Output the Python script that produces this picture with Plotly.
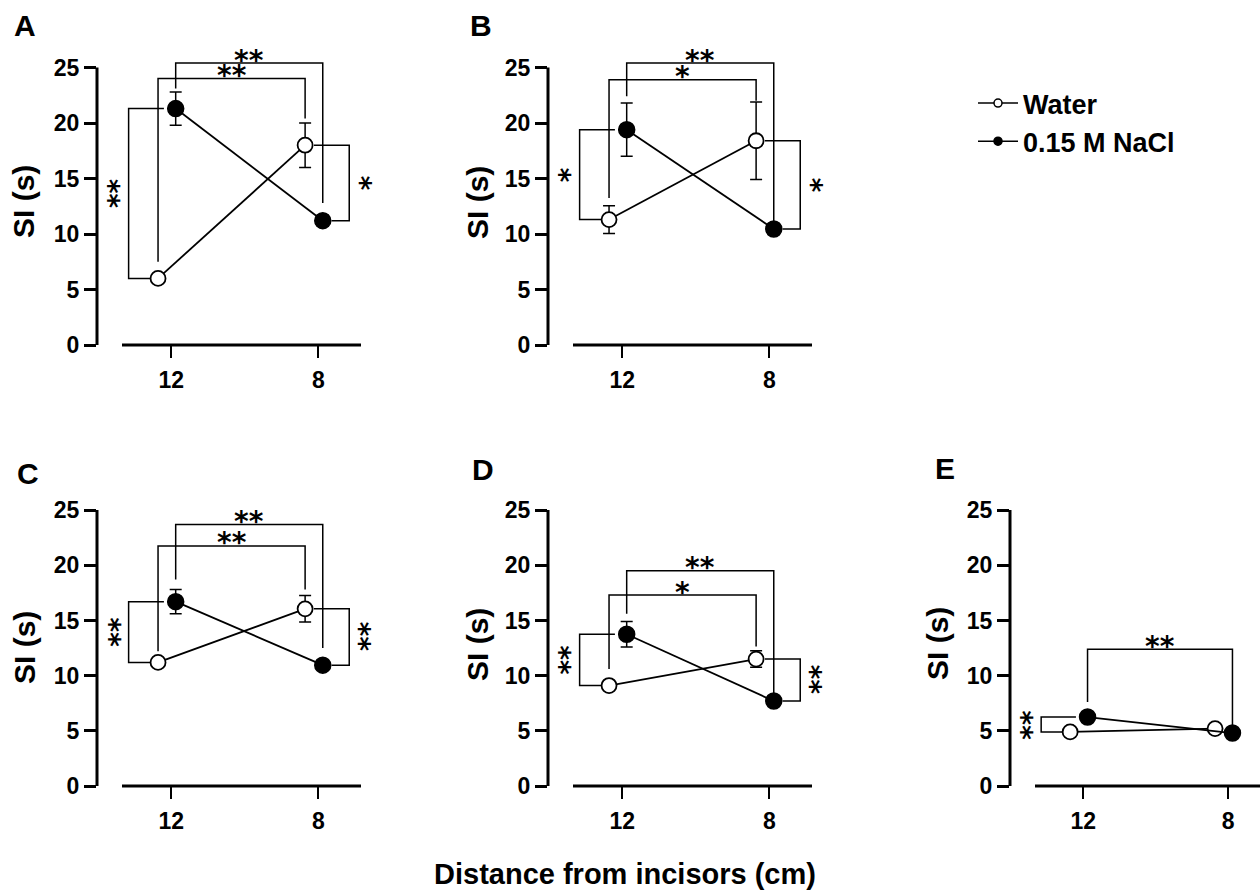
import plotly.graph_objects as go

# ---------------- data ----------------
distances = ["12", "8"]          # distance from incisors (cm)
panels = ["A", "B", "C", "D", "E"]
y_ticks = [0, 5, 10, 15, 20, 25]

water_A = [6.0, 18.0];   water_A_err = [0.3, 2.0]
nacl_A = [21.3, 11.2];   nacl_A_err = [1.5, 0.5]
water_B = [11.3, 18.4];  water_B_err = [1.25, 3.5]
nacl_B = [19.4, 10.45];  nacl_B_err = [2.4, 0.5]
water_C = [11.2, 16.05]; water_C_err = [0.3, 1.2]
nacl_C = [16.7, 10.95];  nacl_C_err = [1.1, 0.4]
water_D = [9.1, 11.5];   water_D_err = [0.3, 0.75]
nacl_D = [13.75, 7.7];   nacl_D_err = [1.15, 0.4]
water_E = [4.9, 5.2];    water_E_err = [0.2, 0.3]
nacl_E = [6.25, 4.8];    nacl_E_err = [0.3, 0.3]

# significance between distances: (label, series, bracket level, leg end at 12, leg end at 8)
sig_dist_A = [("**", "nacl", 25.4, 23.1, 12.8), ("**", "water", 24.0, 7.5, 20.4)]
sig_dist_B = [("**", "nacl", 25.4, 22.4, 11.1), ("*", "water", 23.9, 13.25, 22.0)]
sig_dist_C = [("**", "nacl", 23.7, 18.7, 12.5), ("**", "water", 21.75, 12.2, 17.8)]
sig_dist_D = [("**", "nacl", 19.5, 15.6, 8.3), ("*", "water", 17.3, 10.6, 12.65)]
sig_dist_E = [("**", "nacl", 12.4, 7.6, 5.2)]
# significance between solutions at 12 cm and at 8 cm
sig_12 = {"A": "**", "B": "*", "C": "**", "D": "**", "E": "**"}
sig_8 = {"A": "*", "B": "*", "C": "**", "D": "**", "E": None}

data = {
    "A": (water_A, water_A_err, nacl_A, nacl_A_err, sig_dist_A),
    "B": (water_B, water_B_err, nacl_B, nacl_B_err, sig_dist_B),
    "C": (water_C, water_C_err, nacl_C, nacl_C_err, sig_dist_C),
    "D": (water_D, water_D_err, nacl_D, nacl_D_err, sig_dist_D),
    "E": (water_E, water_E_err, nacl_E, nacl_E_err, sig_dist_E),
}

# ---------------- layout geometry ----------------
W, H = 1260, 894
FONT = "Liberation Sans, Arial, sans-serif"
STAR_FONT = dict(size=28, family="DejaVu Sans, sans-serif", weight="bold", color="black")
WATER_OFF, NACL_OFF = -0.09, 0.03
LEFT_BR, RIGHT_BR = -0.29, 1.21

# pixel boxes: (x_left, x_right, y_zero_px, y_top_px)
row1 = (345, 45.3)
row2 = (786, 488)
boxes = {
    "A": (97, 361) + row1,
    "B": (548, 812) + row1,
    "C": (97, 361) + row2,
    "D": (548, 812) + row2,
    "E": (1010, 1260) + row2,
}
xranges = {"A": [-0.505, 1.29], "B": [-0.505, 1.29], "C": [-0.505, 1.29],
           "D": [-0.505, 1.29], "E": [-0.505, 1.22]}
letter_pos = {"A": (25, 26), "B": (481, 26), "C": (28, 473), "D": (483, 469), "E": (945, 468)}
ytitle_pos = {"A": (24, 202), "B": (477, 203), "C": (24, 648), "D": (477, 645), "E": (937, 644)}

fig = go.Figure()
layout = dict(
    template="none",
    width=W, height=H, margin=dict(l=0, r=0, t=0, b=0, pad=0, autoexpand=False),
    paper_bgcolor="white", plot_bgcolor="white",
    font=dict(family=FONT, color="black"),
    showlegend=True,
)
shapes, annotations = [], []

for i, p in enumerate(panels):
    s = "" if i == 0 else str(i + 1)
    xa, ya = "x" + s, "y" + s
    xl, xr, y0px, ytpx = boxes[p]
    layout["xaxis" + s] = dict(
        domain=[xl / W, xr / W], range=xranges[p], anchor=ya, automargin=False,
        tickvals=[0, 1], ticktext=["<b>%s</b>" % d for d in distances],
        ticks="outside", ticklen=12, tickwidth=2, tickcolor="black",
        showline=False, showgrid=False, zeroline=False,
        tickfont=dict(size=23, family=FONT, color="black"),
        ticklabelstandoff=2, fixedrange=True,
    )
    layout["yaxis" + s] = dict(
        domain=[1 - y0px / H, 1 - ytpx / H], range=[0, 27], anchor=xa, automargin=False,
        tickvals=y_ticks, ticktext=["<b>%d</b>" % v for v in y_ticks],
        ticks="outside", ticklen=12, tickwidth=2.5, tickcolor="black",
        showline=False, showgrid=False, zeroline=False,
        tickfont=dict(size=23, family=FONT, color="black"),
        fixedrange=True,
    )
    # axis lines (y axis 0..25, detached x axis)
    shapes.append(dict(type="line", xref=xa + " domain", yref=ya + " domain",
                       x0=0, x1=0, y0=0, y1=25 / 27, line=dict(color="black", width=3)))
    shapes.append(dict(type="line", xref=xa + " domain", yref=ya + " domain",
                       x0=25 / (xr - xl), x1=1, y0=0, y1=0, line=dict(color="black", width=3)))

    water, water_err, nacl, nacl_err, sig_dist = data[p]
    xw = [k + WATER_OFF for k in range(2)]
    xn = [k + NACL_OFF for k in range(2)]

    # brackets between distances
    for label, series, level, leg12, leg8 in sig_dist:
        xs = xn if series == "nacl" else xw
        fig.add_trace(go.Scatter(
            x=[xs[0], xs[0], xs[1], xs[1]], y=[leg12, level, level, leg8],
            mode="lines", line=dict(color="black", width=1.5),
            xaxis=xa, yaxis=ya, showlegend=False, hoverinfo="skip"))
        annotations.append(dict(
            x=(xs[0] + xs[1]) / 2, y=level, xref=xa, yref=ya, text=label,
            showarrow=False, yanchor="middle", xanchor="center", yshift=3,
            font=STAR_FONT))

    # bracket at 12 cm (left)
    if sig_12[p]:
        fig.add_trace(go.Scatter(
            x=[xw[0] - 0.05, LEFT_BR, LEFT_BR, xn[0] - 0.08],
            y=[water[0], water[0], nacl[0], nacl[0]],
            mode="lines", line=dict(color="black", width=1.5),
            xaxis=xa, yaxis=ya, showlegend=False, hoverinfo="skip"))
        annotations.append(dict(
            x=LEFT_BR, y=(water[0] + nacl[0]) / 2, xref=xa, yref=ya,
            text=sig_12[p], textangle=-90, showarrow=False, xshift=-10,
            xanchor="center", yanchor="middle", font=STAR_FONT))
    # bracket at 8 cm (right)
    if sig_8[p]:
        fig.add_trace(go.Scatter(
            x=[xw[1] + 0.06, RIGHT_BR, RIGHT_BR, xn[1] + 0.06],
            y=[water[1], water[1], nacl[1], nacl[1]],
            mode="lines", line=dict(color="black", width=1.5),
            xaxis=xa, yaxis=ya, showlegend=False, hoverinfo="skip"))
        annotations.append(dict(
            x=RIGHT_BR, y=(water[1] + nacl[1]) / 2, xref=xa, yref=ya,
            text=sig_8[p], textangle=90, showarrow=False, xshift=11,
            xanchor="center", yanchor="middle", font=STAR_FONT))

    # data series
    fig.add_trace(go.Scatter(
        x=xw, y=water, mode="lines+markers", name="Water",
        line=dict(color="black", width=1.8),
        marker=dict(size=15, color="white", line=dict(color="black", width=1.8)),
        error_y=dict(type="data", array=water_err, visible=True, color="black",
                     thickness=1.5, width=6),
        xaxis=xa, yaxis=ya, showlegend=False))
    fig.add_trace(go.Scatter(
        x=xn, y=nacl, mode="lines+markers", name="0.15 M NaCl",
        line=dict(color="black", width=1.8),
        marker=dict(size=16, color="black", line=dict(color="black", width=1.5)),
        error_y=dict(type="data", array=nacl_err, visible=True, color="black",
                     thickness=1.5, width=6),
        xaxis=xa, yaxis=ya, showlegend=False))

    # panel letter and y title
    lx, ly = letter_pos[p]
    annotations.append(dict(x=lx / W, y=1 - ly / H, xref="paper", yref="paper",
                            text="<b>%s</b>" % p, showarrow=False,
                            xanchor="center", yanchor="middle",
                            font=dict(size=30, family=FONT, color="black")))
    tx, ty = ytitle_pos[p]
    annotations.append(dict(x=tx / W, y=1 - ty / H, xref="paper", yref="paper",
                            text="<b>SI (s)</b>", textangle=-90, showarrow=False,
                            xanchor="center", yanchor="middle",
                            font=dict(size=30, family=FONT, color="black")))

# common x title
annotations.append(dict(x=625 / W, y=1 - 874 / H, xref="paper", yref="paper",
                        text="<b>Distance from incisors (cm)</b>", showarrow=False,
                        xanchor="center", yanchor="middle",
                        font=dict(size=29, family=FONT, color="black")))

# legend entries
fig.add_trace(go.Scatter(x=[None], y=[None], mode="lines+markers", name="<b>Water</b>",
                         line=dict(color="black", width=1.5),
                         marker=dict(size=8, color="white", line=dict(color="black", width=1.5))))
fig.add_trace(go.Scatter(x=[None], y=[None], mode="lines+markers", name="<b>0.15 M NaCl</b>",
                         line=dict(color="black", width=1.5),
                         marker=dict(size=8, color="black", line=dict(color="black", width=1.5))))

layout["legend"] = dict(x=973 / W, y=1 - 79 / H, xanchor="left", yanchor="top",
                        bgcolor="rgba(0,0,0,0)", borderwidth=0, itemwidth=40,
                        font=dict(size=27, family=FONT, color="black"),
                        itemclick=False, itemdoubleclick=False)
layout["shapes"] = shapes
layout["annotations"] = annotations
fig.update_layout(**layout)

fig.write_html("out.html",
               config={"displayModeBar": False, "staticPlot": False},
               post_script="document.body.style.margin='0px';document.body.style.padding='0px';")
